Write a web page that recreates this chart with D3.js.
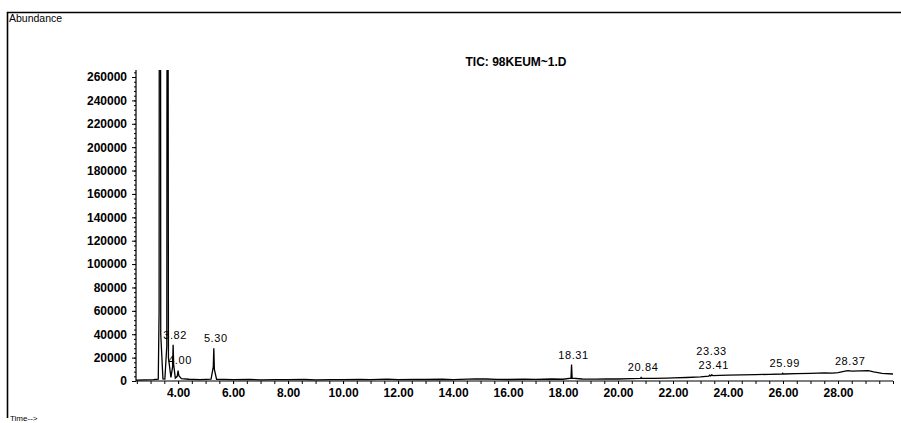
<!DOCTYPE html>
<html>
<head>
<meta charset="utf-8">
<script src="https://cdn.jsdelivr.net/npm/d3@7"></script>
<style>
  body { margin: 0; background: #fff; }
  svg { display: block; font-family: "Liberation Sans", Arial, sans-serif; }
  .tick text { font-weight: bold; font-size: 12px; fill: #000; }
  .domain, .tick line { stroke: #000; }
</style>
</head>
<body>
<main></main>
<script>
// retention time (min) and abundance
let retentionTimes = [
  2.47, 2.8, 3.1, 3.28, 3.31, 3.33, 3.34, 3.35, 3.37, 3.45, 3.52, 3.59, 3.61, 3.62, 3.63,
  3.65, 3.74, 3.80, 3.82, 3.84, 3.90, 3.97, 4.00, 4.03, 4.12, 4.4, 4.8, 5.2, 5.28, 5.30,
  5.32, 5.40, 6.0, 6.6, 7.0, 7.6, 8.0, 8.6, 9.0, 9.6, 10.0, 10.6, 11.0, 11.6, 12.0, 12.6,
  13.0, 13.6, 14.0, 14.8, 15.2, 15.6, 16.0, 16.6, 17.0, 17.6, 18.0, 18.29, 18.31, 18.33,
  18.7, 19.2, 19.6, 20.0, 20.5, 20.82, 20.84, 20.86, 21.3, 21.8, 22.0, 22.5, 23.0, 23.3,
  23.33, 23.37, 23.41, 23.45, 23.7, 24.0, 24.5, 25.0, 25.5, 25.97, 25.99, 26.01, 26.5,
  27.0, 27.5, 27.8, 28.0, 28.3, 28.37, 28.5, 28.8, 29.1, 29.3, 29.6, 30.0
];
let abundances = [
  800, 1000, 1200, 1500, 60000, 900000, 1200000, 900000, 40000, 1800, 1600, 30000, 700000, 900000, 500000,
  20000, 3000, 12000, 31000, 14000, 2500, 4000, 9000, 4500, 2000, 1500, 1200, 1600, 12000, 28000,
  10000, 1500, 1100, 1300, 1000, 1200, 1100, 1300, 1000, 1200, 1100, 1300, 1200, 1600, 1200, 1400,
  1300, 1500, 1200, 1900, 1700, 1400, 1300, 1500, 1400, 1700, 1500, 2500, 14000, 2500,
  1700, 1600, 1800, 1700, 2000, 2300, 3000, 2300, 2200, 2500, 2600, 3000, 3600, 4200,
  5000, 4400, 5200, 4600, 4800, 5000, 5200, 5400, 5700, 6000, 6600, 6000, 6300,
  6600, 7000, 6800, 7200, 8600, 8800, 8500, 8700, 8900, 7800, 6600, 6000
];

// peaks that carry a retention time label
let peakLabels = ["3.82", "4.00", "5.30", "18.31", "20.84", "23.33", "23.41", "25.99", "28.37"];

let yTickValues = d3.range(0, 260001, 20000);
let xTickValues = d3.range(4, 28.01, 2);

let width = 901;
let height = 423;

let svg = d3.select('main')
  .append('svg')
  .attr('width', width)
  .attr('height', height);

// frame of the printout: top and left edges only
svg.append('path')
  .attr('d', 'M7.5,418 V12.5 H901')
  .attr('fill', 'none')
  .attr('stroke', '#000')
  .attr('stroke-width', 1.6);

svg.append('text')
  .attr('x', 9)
  .attr('y', 22)
  .style('font-size', '10.5px')
  .text('Abundance');

svg.append('text')
  .attr('x', 10)
  .attr('y', 421)
  .style('font-size', '8px')
  .text('Time-->');

svg.append('text')
  .attr('x', 516)
  .attr('y', 66)
  .attr('text-anchor', 'middle')
  .style('font-size', '12px')
  .style('font-weight', 'bold')
  .text('TIC: 98KEUM~1.D');

let x = d3.scaleLinear()
  .domain([2.47, 30])
  .range([136, 893]);

let y = d3.scaleLinear()
  .domain([0, 266000])
  .range([381, 70]);

// minor ticks first so the major ones sit on top
svg.append('g')
  .attr('transform', 'translate(136,0)')
  .call(d3.axisLeft(y).tickValues(d3.range(0, 264001, 4000)).tickSize(2).tickFormat(''))
  .call(g => g.select('.domain').remove());

svg.append('g')
  .attr('transform', 'translate(0,381)')
  .call(d3.axisBottom(x).tickValues(d3.range(2.5, 30.01, 0.5)).tickSize(3).tickFormat(''))
  .call(g => g.select('.domain').remove());

svg.append('g')
  .attr('transform', 'translate(136,0)')
  .call(d3.axisLeft(y).tickValues(yTickValues).tickSize(4).tickPadding(5).tickFormat(d3.format('d')))
  .call(g => g.select('.domain').attr('d', 'M0,70V381').attr('stroke-width', 1.2));

svg.append('g')
  .attr('transform', 'translate(0,381)')
  .call(d3.axisBottom(x).tickValues(xTickValues).tickSize(3).tickPadding(4).tickFormat(d3.format('.2f')))
  .call(g => g.select('.domain').attr('d', 'M136,0H893').attr('stroke-width', 1.2))
  .call(g => g.selectAll('.tick text').attr('dy', '0.75em'));

svg.append('clipPath')
  .attr('id', 'plot-clip')
  .append('rect')
  .attr('x', 136)
  .attr('y', 70)
  .attr('width', 760)
  .attr('height', 312);

let points = retentionTimes.map((t, i) => [t, abundances[i]]);

let line = d3.line()
  .x(d => x(d[0]))
  .y(d => y(d[1]));

svg.append('path')
  .datum(points)
  .attr('clip-path', 'url(#plot-clip)')
  .attr('fill', 'none')
  .attr('stroke', '#000')
  .attr('stroke-width', 1.3)
  .attr('d', line);

// label each peak just above its apex, stacking labels that would collide
function apexOf(rt) {
  let best = 0;
  points.forEach(p => {
    if (Math.abs(p[0] - rt) <= 0.03 && p[1] > best) best = p[1];
  });
  return best;
}

let placed = [];
peakLabels.slice().reverse().forEach(lbl => {
  let rt = +lbl;
  let lx = x(rt) + 2;
  let ly = y(apexOf(rt)) - 6;
  placed.forEach(p => {
    if (Math.abs(p.x - lx) < 28 && Math.abs(p.y - ly) < 13) ly = p.y - 14;
  });
  placed.push({ x: lx, y: ly, text: lbl });
});

svg.append('g')
  .selectAll('text')
  .data(placed)
  .enter().append('text')
  .attr('x', d => d.x)
  .attr('y', d => d.y)
  .attr('text-anchor', 'middle')
  .style('font-size', '11px')
  .style('letter-spacing', '0.6px')
  .text(d => d.text);
</script>
</body>
</html>
